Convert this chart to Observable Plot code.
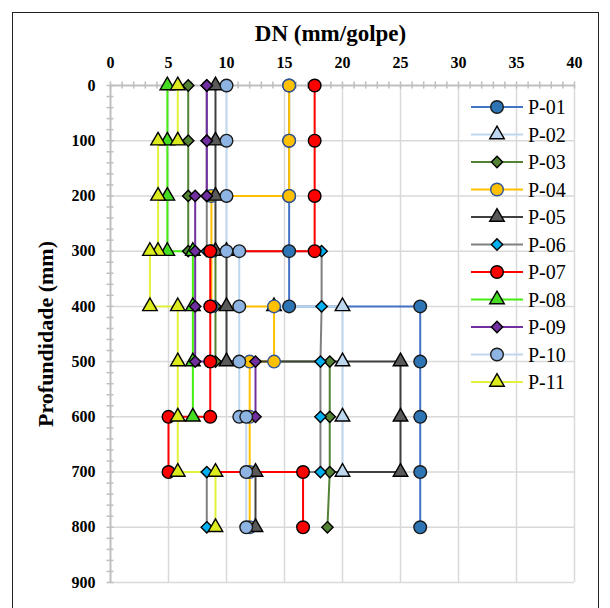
<!DOCTYPE html>
<html><head><meta charset="utf-8">
<script src="https://cdn.jsdelivr.net/npm/d3@7"></script>
<script src="https://cdn.jsdelivr.net/npm/@observablehq/plot@0.6"></script>
<style>
html,body{margin:0;padding:0;background:#fff;overflow:hidden;}
#wrap{position:relative;width:610px;height:608px;}
#border{position:absolute;left:12px;top:12px;width:587px;height:640px;border:1.5px solid #222;box-sizing:border-box;pointer-events:none}
#legend{position:absolute;left:0;top:0;pointer-events:none}
</style></head><body>
<div id="wrap"><div id="chart"></div><div id="border"></div><svg id="legend" width="610" height="608"></svg></div>
<script>
// ---- data (DN in mm/golpe, depth in mm) ----
const seriesNames = ["P-01","P-02","P-03","P-04","P-05","P-06","P-07","P-08","P-09","P-10","P-11"];
const P01_dn = [15.4,15.4,15.4,15.4,15.4,26.7,26.7,26.7,26.7,26.7];
const P01_d  = [0,100,200,300,400,400,500,600,700,800];
const P02_dn = [14.1,20.0,20.0,20.0,20.0];
const P02_d  = [400,400,500,600,700];
const P03_dn = [6.7,6.7,6.7,6.7,9.05,9.05,9.05,18.9,18.9,18.9,18.7];
const P03_d  = [0,100,200,300,300,400,500,500,600,700,800];
const P04_dn = [15.4,15.4,15.4,8.7,8.7,8.7,14.1,14.1,12.0,12.0,12.0,12.0];
const P04_d  = [0,100,200,200,300,400,400,500,500,600,700,800];
const P05_dn = [9.05,9.05,9.05,9.05,10.0,10.0,10.0,25.0,25.0,25.0,12.5,12.5];
const P05_d  = [0,100,200,300,300,400,500,500,600,700,700,800];
const P06_dn = [8.3,8.3,8.3,8.3,18.2,18.2,18.1,18.1,18.1,8.3,8.3];
const P06_d  = [0,100,200,300,300,400,500,600,700,700,800];
const P07_dn = [17.6,17.6,17.6,17.6,8.6,8.6,8.6,8.6,5.0,5.0,16.6,16.6];
const P07_d  = [0,100,200,300,300,400,500,600,600,700,700,800];
const P08_dn = [4.9,4.9,4.9,4.9,7.1,7.1,7.1,7.1];
const P08_d  = [0,100,200,300,300,400,500,600];
const P09_dn = [8.3,8.3,8.3,7.3,7.3,7.3,7.3,12.5,12.5];
const P09_d  = [0,100,200,200,300,400,500,500,600];
const P10_dn = [10.0,10.0,10.0,10.0,11.1,11.1,11.1,11.1,11.7,11.7,11.7];
const P10_d  = [0,100,200,300,300,400,500,600,600,700,800];
const P11_dn = [5.8,5.8,4.1,4.1,4.1,3.4,3.4,5.8,5.8,5.8,5.8,9.05,9.05];
const P11_d  = [0,100,100,200,300,300,400,400,500,600,700,700,800];

const xTicks = [0,5,10,15,20,25,30,35,40];
const yTicks = [0,100,200,300,400,500,600,700,800,900];
const xMinor = d3.range(0, 41, 1);
const yMinor = d3.range(0, 901, 20);

// ---- styles ----
const styles = [
  {line:"#4472C4", fill:"#2E75B6", stroke:"#1a1a1a", symbol:"circle",   r:6.3},
  {line:"#BDD7EE", fill:"#BDD7EE", stroke:"#000",    symbol:"triangle", r:5.4},
  {line:"#548235", fill:"#548235", stroke:"#000",    symbol:"diamond2", r:5.1},
  {line:"#FFC000", fill:"#FFC000", stroke:"#2F5597", symbol:"circle",   r:6.3},
  {line:"#404040", fill:"#595959", stroke:"#000",    symbol:"triangle", r:5.4},
  {line:"#808080", fill:"#00B0F0", stroke:"#000",    symbol:"diamond2", r:5.1},
  {line:"#FF0000", fill:"#FF0000", stroke:"#000",    symbol:"circle",   r:6.3},
  {line:"#44EE11", fill:"#44DD22", stroke:"#000",    symbol:"triangle", r:5.4},
  {line:"#7030A0", fill:"#7030A0", stroke:"#000",    symbol:"diamond2", r:5.1},
  {line:"#BDD7EE", fill:"#8DB4E2", stroke:"#1a1a1a", symbol:"circle",   r:6.3},
  {line:"#E2F23A", fill:"#DCEB1E", stroke:"#000",    symbol:"triangle", r:5.4}
];
const dnArrays = [P01_dn,P02_dn,P03_dn,P04_dn,P05_dn,P06_dn,P07_dn,P08_dn,P09_dn,P10_dn,P11_dn];
const dArrays  = [P01_d,P02_d,P03_d,P04_d,P05_d,P06_d,P07_d,P08_d,P09_d,P10_d,P11_d];
const series = seriesNames.map((name, i) => ({
  name, style: styles[i],
  data: dnArrays[i].map((v, j) => ({dn: v, depth: dArrays[i][j]}))
}));

const font = "Liberation Serif, Times New Roman, serif";
const gridColor = "#d9d9d9";
const axisColor = "#bfbfbf";

const marks = [
  Plot.ruleX(xTicks.filter(d => d > 0), {x: d => d, stroke: gridColor, strokeWidth: 1.5}),
  Plot.ruleY(yTicks.filter(d => d > 0), {y: d => d, stroke: gridColor, strokeWidth: 1.5}),
  Plot.ruleY([0], {y: d => d, x1: () => 0, x2: () => 40, stroke: axisColor, strokeWidth: 2}),
  Plot.ruleX([0], {x: d => d, y1: () => 0, y2: () => 900, stroke: axisColor, strokeWidth: 2}),
  Plot.ruleX(xMinor, {x: d => d, y1: () => -6.5, y2: () => 6.5, stroke: axisColor, strokeWidth: 1.5}),
  Plot.ruleY(yMinor, {y: d => d, x1: () => -0.3, x2: () => 0.3, stroke: axisColor, strokeWidth: 1.5}),
  Plot.text(xTicks, {x: d => d, frameAnchor: "top", lineAnchor: "middle", dy: -23, text: d => String(d), fontSize: 16, fontWeight: "bold", fill: "#000"}),
  Plot.text(yTicks, {y: d => d, frameAnchor: "left", lineAnchor: "middle", dx: -15, textAnchor: "end", text: d => String(d), fontSize: 16, fontWeight: "bold", fill: "#000"}),
  Plot.text(["DN (mm/golpe)"], {frameAnchor: "top", lineAnchor: "middle", dy: -52, dx: -12, text: d => d, fontSize: 23, fontWeight: "bold", fill: "#000"}),
  Plot.text(["Profundidade (mm)"], {frameAnchor: "left", textAnchor: "middle", lineAnchor: "middle", dx: -65, rotate: -90, text: d => d, fontSize: 22, fontWeight: "bold", fill: "#000"})
];
for (const s of series) {
  marks.push(Plot.line(s.data, {x: "dn", y: "depth", stroke: s.style.line, strokeWidth: 2}));
}
for (const s of series) {
  marks.push(Plot.dot(s.data, {x: "dn", y: "depth", symbol: () => s.style.symbol, r: s.style.r,
    fill: s.style.fill, stroke: s.style.stroke, strokeWidth: 1.4}));
}

const chart = Plot.plot({
  width: 610, height: 608,
  marginLeft: 110, marginRight: 36, marginTop: 85, marginBottom: 26,
  x: {domain: [0, 40], axis: null},
  y: {domain: [0, 900], reverse: true, axis: null},
  symbol: {type: "identity"},
  style: {fontFamily: font, background: "#fff", overflow: "visible"},
  marks
});
document.getElementById("chart").appendChild(chart);

// ---- legend ----
const lg = d3.select("#legend");
series.forEach((s, i) => {
  const y = 107 + 27.5 * i;
  const g = lg.append("g");
  g.append("line").attr("x1", 471).attr("x2", 523).attr("y1", y).attr("y2", y)
    .attr("stroke", s.style.line).attr("stroke-width", 2);
  const typ = {circle: d3.symbolCircle, triangle: d3.symbolTriangle, diamond2: d3.symbolDiamond2}[s.style.symbol];
  g.append("path").attr("d", d3.symbol(typ, Math.PI * s.style.r * s.style.r)())
    .attr("transform", `translate(497,${y})`)
    .attr("fill", s.style.fill).attr("stroke", s.style.stroke).attr("stroke-width", 1.4);
  g.append("text").attr("x", 528).attr("y", y).attr("dy", "0.35em")
    .attr("font-family", font).attr("font-size", 20).attr("fill", "#000").text(s.name);
});
</script>
</body></html>
